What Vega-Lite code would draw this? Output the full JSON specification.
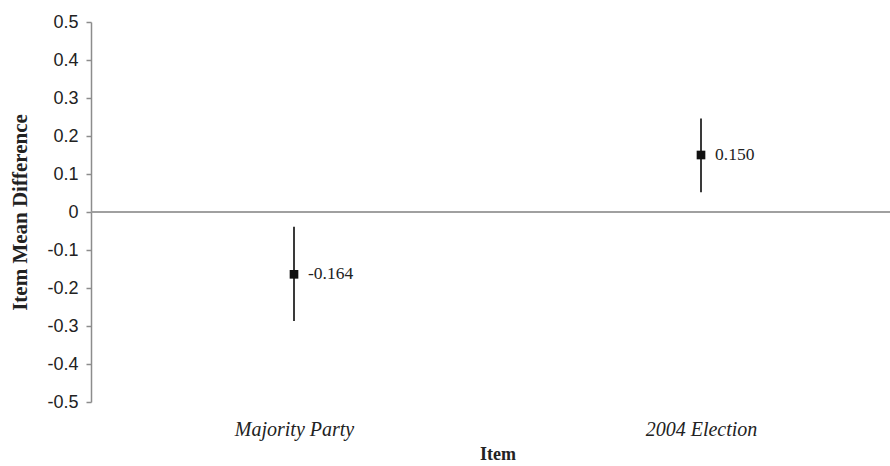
{
  "$schema": "https://vega.github.io/schema/vega-lite/v6.json",
  "width": 799,
  "height": 380,
  "autosize": {"type": "none"},
  "padding": {"left": 91, "top": 22, "right": 0, "bottom": 64},
  "background": "white",
  "config": {
    "view": {"stroke": null},
    "axis": {"grid": false},
    "axisY": {
      "labelOverlap": false,
      "labelExpr": "datum.value == 0 ? '0' : replace(format(datum.value, '.1f'), '\u2212', '-')",
      "domainColor": "#8c8c8c",
      "domainWidth": 1.5,
      "tickColor": "#8c8c8c",
      "tickWidth": 1.5,
      "tickSize": 5,
      "labelFont": "Liberation Sans",
      "labelFontSize": 18,
      "labelColor": "#222222",
      "labelPadding": 8,
      "titleFont": "Liberation Serif",
      "titleFontWeight": "bold",
      "titleFontSize": 21,
      "titleColor": "#222222",
      "titleX": -71,
      "titleBaseline": "middle"
    }
  },
  "data": {
    "values": [
      {"item": "Majority Party", "mean": -0.164, "lo": -0.287, "hi": -0.039},
      {"item": "2004 Election", "mean": 0.150, "lo": 0.052, "hi": 0.246}
    ]
  },
  "encoding": {
    "x": {
      "field": "item",
      "type": "nominal",
      "sort": ["Majority Party", "2004 Election"],
      "scale": {"type": "point", "range": [203, 610], "padding": 0},
      "axis": {
        "title": "Item",
        "domain": false,
        "ticks": false,
        "labelAngle": 0,
        "labelFont": "Liberation Serif",
        "labelFontStyle": "italic",
        "labelFontSize": 20,
        "labelColor": "#222222",
        "labelPadding": 17,
        "titleFont": "Liberation Serif",
        "titleFontWeight": "bold",
        "titleFontSize": 18,
        "titleColor": "#222222",
        "titlePadding": 6
      }
    }
  },
  "layer": [
    {
      "mark": {"type": "rule", "color": "#3a3a3a", "strokeWidth": 2},
      "encoding": {
        "y": {
          "field": "lo",
          "type": "quantitative",
          "scale": {"domain": [-0.5, 0.5], "nice": false, "zero": false},
          "axis": {
            "title": "Item Mean Difference",
            "values": [-0.5, -0.4, -0.3, -0.2, -0.1, 0, 0.1, 0.2, 0.3, 0.4, 0.5]
          }
        },
        "y2": {"field": "hi"}
      }
    },
    {
      "mark": {"type": "rule", "color": "#9a9a9a", "strokeWidth": 1.5},
      "encoding": {
        "y": {
          "datum": 0,
          "type": "quantitative",
          "axis": {
            "title": "Item Mean Difference",
            "values": [-0.5, -0.4, -0.3, -0.2, -0.1, 0, 0.1, 0.2, 0.3, 0.4, 0.5]
          }
        },
        "x": null
      }
    },
    {
      "mark": {"type": "point", "shape": "square", "filled": true, "color": "#111111", "size": 75, "opacity": 1},
      "encoding": {
        "y": {
          "field": "mean",
          "type": "quantitative",
          "axis": {
            "title": "Item Mean Difference",
            "values": [-0.5, -0.4, -0.3, -0.2, -0.1, 0, 0.1, 0.2, 0.3, 0.4, 0.5]
          }
        }
      }
    },
    {
      "transform": [
        {"calculate": "replace(format(datum.mean, '.3f'), '\u2212', '-')", "as": "label"}
      ],
      "mark": {"type": "text", "align": "left", "baseline": "middle", "dx": 14, "font": "Liberation Serif", "fontSize": 17.5, "color": "#222222"},
      "encoding": {
        "y": {
          "field": "mean",
          "type": "quantitative",
          "axis": {
            "title": "Item Mean Difference",
            "values": [-0.5, -0.4, -0.3, -0.2, -0.1, 0, 0.1, 0.2, 0.3, 0.4, 0.5]
          }
        },
        "text": {"field": "label"}
      }
    }
  ]
}
